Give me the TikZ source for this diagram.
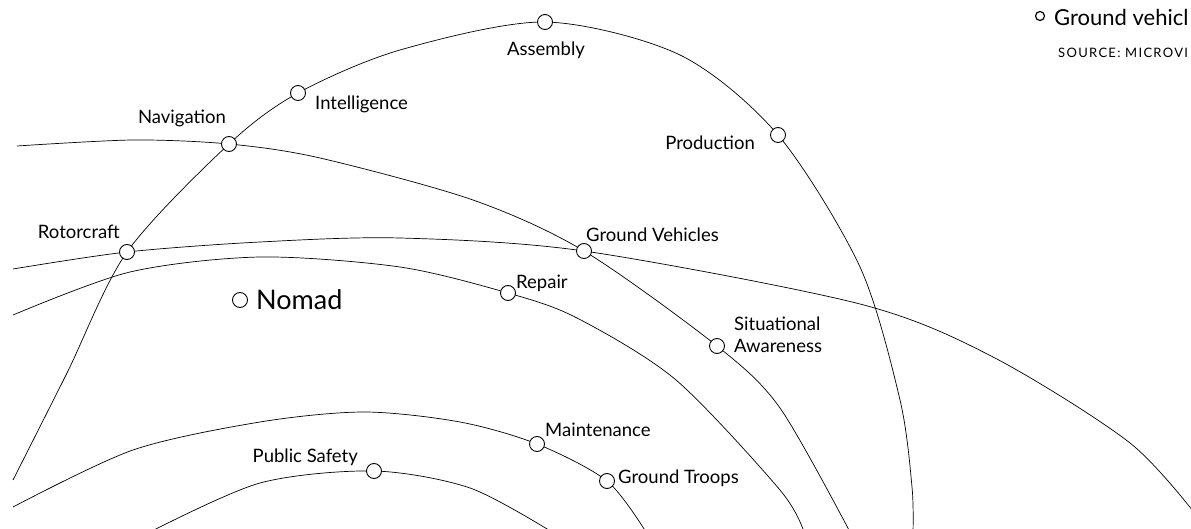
\documentclass[tikz,border=0pt]{standalone}
\usepackage{fontspec}
\setmainfont{Lato}
\pgfdeclarelayer{background}
\pgfsetlayers{background,main}
\tikzset{
	dot/.style={circle,draw,fill=white,line width=0.9pt,inner sep=0pt,minimum size=15pt},
	lbl/.style={font=\fontsize{18.5}{22}\selectfont,inner sep=0pt},
	arc/.style={line width=0.7pt}
}

\begin{document}
\begin{tikzpicture}[x=1pt,y=-1pt]
	\useasboundingbox (0,0) rectangle (1191,529);
	\clip (0,0) rectangle (1191,529);

	% points on the arcs
	\node[dot] (Asm) at (545,22) {};
	\node[dot] (Int) at (298,93) {};
	\node[dot] (Nav) at (229,144) {};
	\node[dot] (Prod) at (778,135) {};
	\node[dot] (Rot) at (127,252) {};
	\node[dot] (GV) at (584,251) {};
	\node[dot] (Rep) at (508,293) {};
	\node[dot] (SA) at (717,346) {};
	\node[dot] (Mnt) at (537,444) {};
	\node[dot] (PS) at (374,471) {};
	\node[dot] (GT) at (607,481) {};
	\node[dot] (Nomad) at (240,300) {};

	% labels
	\node[lbl] (AsmL) at (546,50) {Assembly};
	\node[lbl,anchor=west] (IntL) at (315,104) {Intelligence};
	\node[lbl,anchor=east] (NavL) at (226,118) {Navigation};
	\node[lbl,anchor=east] (ProdL) at (755,143) {Production};
	\node[lbl,anchor=east] (RotL) at (120,232) {Rotorcraft};
	\node[lbl,anchor=west] (GVL) at (586,235) {Ground Vehicles};
	\node[lbl,anchor=west] (RepL) at (516,283) {Repair};
	\node[lbl,anchor=west,align=left] (SAL) at (734,335) {Situational\\Awareness};
	\node[lbl,anchor=west] (MntL) at (545,430) {Maintenance};
	\node[lbl,anchor=east] (PSL) at (358,457) {Public Safety};
	\node[lbl,anchor=west] (GTL) at (618,478) {Ground Troops};
	\node[lbl,anchor=west,font=\fontsize{27}{30}\selectfont] (NomadL) at (256,300) {Nomad};

	% key
	\node[dot,minimum size=9pt,line width=1.2pt] (Key) at (1040,16) {};
	\node[lbl,anchor=west,font=\fontsize{22}{26}\selectfont] (KeyL) at (1054,17) {Ground vehicl};
	\node[lbl,anchor=west,font=\fontsize{13}{15}\selectfont\addfontfeature{LetterSpace=10}] (Src) at (1058,53) {SOURCE: MICROVI};

	\begin{pgfonlayer}{background}
		\draw[arc] plot[smooth] coordinates {(13,480) (67,373) (Rot.center) (Nav.center) (Int.center) (400,50) (Asm.center) (680,55) (Prod.center) (860,267) (900,400) (912,487) (913,532)};
		\draw[arc] plot[smooth] coordinates {(17,146) (133,140) (Nav.center) (320,158) (473,200) (GV.center) (SA.center) (780,408) (850,532)};
		\draw[arc] plot[smooth] coordinates {(13,269) (Rot.center) (260,242) (400,238) (GV.center) (860,304) (993,357) (1130,443) (1200,520)};
		\draw[arc] plot[smooth] coordinates {(13,315) (130,272) (260,257) (400,267) (Rep.center) (577,318) (676,380) (780,490) (804,532)};
		\draw[arc] plot[smooth] coordinates {(13,507) (133,450) (260,422) (364,412) (460,422) (Mnt.center) (GT.center) (646,532)};
		\draw[arc] plot[smooth] coordinates {(150,532) (260,483) (PS.center) (470,488) (552,532)};
	\end{pgfonlayer}
\end{tikzpicture}
\end{document}
